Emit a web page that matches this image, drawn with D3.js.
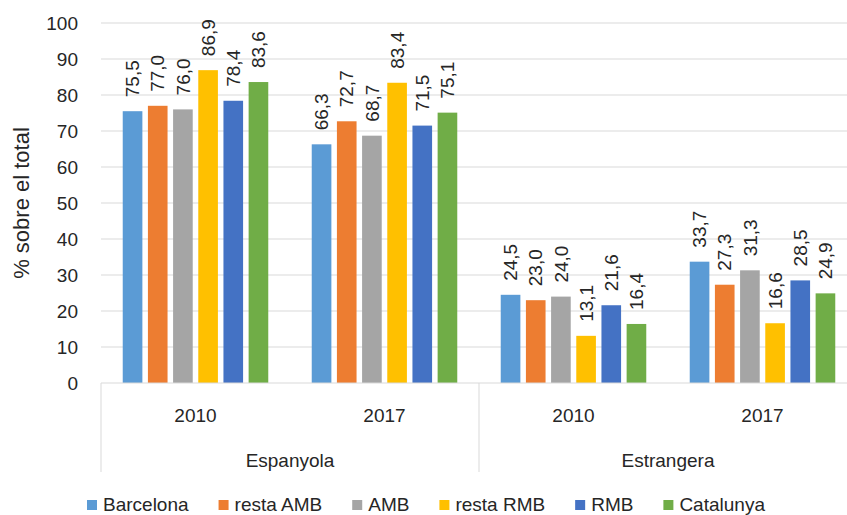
<!DOCTYPE html>
<html>
<head>
<meta charset="utf-8">
<script src="https://cdn.jsdelivr.net/npm/d3@7"></script>
<style>
  body { margin: 0; background: #fff; }
  svg text { font-family: "Liberation Sans", Arial, sans-serif; fill: #262626; }
</style>
</head>
<body>
<script>
var width = 847,
	height = 515;

// data
var groups = ["Espanyola", "Estrangera"];
var years = ["2010", "2017"];
var series = ["Barcelona", "resta AMB", "AMB", "resta RMB", "RMB", "Catalunya"];
var colors = ["#5B9BD5", "#ED7D31", "#A5A5A5", "#FFC000", "#4472C4", "#70AD47"];
var esp2010 = [75.5, 77.0, 76.0, 86.9, 78.4, 83.6];
var esp2017 = [66.3, 72.7, 68.7, 83.4, 71.5, 75.1];
var est2010 = [24.5, 23.0, 24.0, 13.1, 21.6, 16.4];
var est2017 = [33.7, 27.3, 31.3, 16.6, 28.5, 24.9];
var yTicks = [0, 10, 20, 30, 40, 50, 60, 70, 80, 90, 100];

var cats = [
	{group: groups[0], year: years[0], values: esp2010},
	{group: groups[0], year: years[1], values: esp2017},
	{group: groups[1], year: years[0], values: est2010},
	{group: groups[1], year: years[1], values: est2017}
];

var plotLeft = 101, plotRight = 857, plotTop = 23, plotBottom = 383;

var svg = d3.select("body").append("svg")
	.attr("width", width)
	.attr("height", height);

var y = d3.scaleLinear().domain([0, 100]).range([plotBottom, plotTop]);

var x0 = d3.scaleBand()
	.domain(d3.range(cats.length))
	.range([plotLeft, plotRight]);

var x1 = d3.scaleBand()
	.domain(series)
	.range([x0.bandwidth() * 0.115, x0.bandwidth() * 0.885])
	.paddingInner(0.22);

var color = d3.scaleOrdinal().domain(series).range(colors);

// gridlines
svg.append("g")
	.selectAll("line")
	.data(yTicks.slice(1))
	.enter()
	.append("line")
	.attr("x1", plotLeft)
	.attr("x2", plotRight)
	.attr("y1", function (d) { return y(d); })
	.attr("y2", function (d) { return y(d); })
	.style("stroke", "#d9d9d9")
	.style("stroke-width", 1);

// y axis labels
var yAxis = svg.append("g")
	.attr("transform", "translate(" + (plotLeft - 6) + ",0)")
	.call(d3.axisLeft(y).tickValues(yTicks).tickSize(0).tickPadding(17));
yAxis.select(".domain").remove();
yAxis.selectAll("text")
	.style("font-size", "19px")
	.style("font-family", "'Liberation Sans', Arial, sans-serif")
	.style("fill", "#262626");

svg.append("text")
	.text("% sobre el total")
	.attr("transform", "translate(29," + ((plotTop + plotBottom) / 2) + ") rotate(-90)")
	.style("text-anchor", "middle")
	.style("font-size", "22px");

// bars
var gCats = svg.selectAll("g.cat")
	.data(cats)
	.enter()
	.append("g")
	.attr("class", "cat")
	.attr("transform", function (d, i) { return "translate(" + x0(i) + ",0)"; });

gCats.selectAll("rect")
	.data(function (d) { return d.values.map(function (v, j) { return {name: series[j], value: v}; }); })
	.enter()
	.append("rect")
	.attr("x", function (d) { return x1(d.name); })
	.attr("width", x1.bandwidth())
	.attr("y", function (d) { return y(d.value); })
	.attr("height", function (d) { return plotBottom - y(d.value); })
	.style("fill", function (d) { return color(d.name); });

gCats.selectAll("text.lbl")
	.data(function (d) { return d.values.map(function (v, j) { return {name: series[j], value: v}; }); })
	.enter()
	.append("text")
	.attr("class", "lbl")
	.text(function (d) { return d.value.toFixed(1).replace(".", ","); })
	.attr("transform", function (d) {
		return "translate(" + (x1(d.name) + x1.bandwidth() / 2) + "," + (y(d.value) - 14) + ") rotate(-90)";
	})
	.attr("dy", "0.35em")
	.style("font-size", "19px");

// category axis
svg.append("line")
	.attr("x1", plotLeft).attr("x2", plotRight)
	.attr("y1", plotBottom).attr("y2", plotBottom)
	.style("stroke", "#d9d9d9");

svg.selectAll("line.div")
	.data([0, 2])
	.enter()
	.append("line")
	.attr("class", "div")
	.attr("x1", function (d) { return x0(d); })
	.attr("x2", function (d) { return x0(d); })
	.attr("y1", plotBottom)
	.attr("y2", 472)
	.style("stroke", "#d9d9d9");

svg.selectAll("text.year")
	.data(cats)
	.enter()
	.append("text")
	.attr("class", "year")
	.text(function (d) { return d.year; })
	.attr("x", function (d, i) { return x0(i) + x0.bandwidth() / 2; })
	.attr("y", 422)
	.style("text-anchor", "middle")
	.style("font-size", "19px");

svg.selectAll("text.group")
	.data(groups)
	.enter()
	.append("text")
	.attr("class", "group")
	.text(function (d) { return d; })
	.attr("x", function (d, i) { return x0(i * 2 + 1); })
	.attr("y", 467)
	.style("text-anchor", "middle")
	.style("font-size", "19px");

// legend
var legend = svg.append("g").attr("class", "legend");
var lx = 87;
series.forEach(function (s) {
	legend.append("rect")
		.attr("x", lx)
		.attr("y", 500)
		.attr("width", 10)
		.attr("height", 10)
		.style("fill", color(s));
	var t = legend.append("text")
		.text(s)
		.attr("x", lx + 16)
		.attr("y", 511)
		.style("font-size", "19px");
	lx += 16 + t.node().getComputedTextLength() + 30;
});
</script>
</body>
</html>
